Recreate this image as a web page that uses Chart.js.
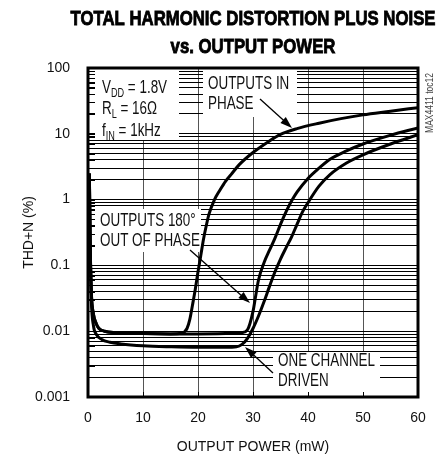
<!DOCTYPE html>
<html>
<head>
<meta charset="utf-8">
<script src="https://cdn.jsdelivr.net/npm/chart.js@4.4.0/dist/chart.umd.min.js"></script>
<style>
  html, body { margin: 0; padding: 0; background: #fff; }
  #wrap { width: 445px; height: 461px; position: relative; }
</style>
</head>
<body>
<div id="wrap"><canvas id="chart"></canvas></div>
<script>
// axis ticks
const xTicks = [0, 10, 20, 30, 40, 50, 60];
const yDecades = [0.001, 0.01, 0.1, 1, 10, 100];
const yLabels = ['0.001', '0.01', '0.1', '1', '10', '100'];

// OUTPUTS IN PHASE
const inPhaseX = [0.25, 0.4, 0.6, 1, 1.5, 2, 3, 5, 10, 15, 17, 18, 18.5, 19, 19.5, 20, 20.5, 21, 21.5, 22, 23, 24, 25, 26, 27.5, 30, 33, 35, 38, 42, 46, 50, 55, 60];
const inPhaseY = [2.5, 0.2, 0.04, 0.018, 0.013, 0.011, 0.01, 0.0095, 0.0092, 0.0091, 0.0093, 0.011, 0.015, 0.025, 0.043, 0.08, 0.14, 0.25, 0.4, 0.6, 1.0, 1.4, 1.9, 2.4, 3.4, 5.2, 7.8, 9.8, 12, 14.5, 17, 19.4, 22, 25];

// OUTPUTS 180° OUT OF PHASE
const outPhaseX = [0.25, 0.4, 0.6, 1, 1.5, 2, 3, 5, 10, 15, 20, 25, 28, 29, 30, 30.5, 31, 32, 33, 34, 35, 36, 37, 38, 40, 42, 44, 47, 50, 55, 60];
const outPhaseY = [2.5, 0.2, 0.04, 0.018, 0.013, 0.011, 0.01, 0.0095, 0.0092, 0.0091, 0.0091, 0.0092, 0.0095, 0.0105, 0.02, 0.035, 0.06, 0.11, 0.17, 0.26, 0.42, 0.65, 0.95, 1.3, 2.1, 3.0, 4.1, 5.5, 7.0, 9.5, 12.3];

// ONE CHANNEL DRIVEN
const oneChX = [0.25, 0.4, 0.6, 1, 1.5, 2.5, 4, 6, 10, 15, 20, 25, 27, 28, 29, 30, 31, 32, 33, 34, 35, 36, 37, 38, 39, 40, 42, 44, 47, 50, 55, 60];
const oneChY = [2.5, 0.2, 0.03, 0.012, 0.009, 0.0075, 0.0068, 0.0064, 0.006, 0.0058, 0.0057, 0.0057, 0.0058, 0.0063, 0.0078, 0.011, 0.017, 0.028, 0.048, 0.08, 0.125, 0.185, 0.27, 0.42, 0.65, 0.9, 1.6, 2.4, 3.6, 4.8, 7.0, 9.7];

function hasFont(name) {
  const c = document.createElement('canvas').getContext('2d');
  const s = 'OUTPUT POWER 0123';
  c.font = '40px monospace';
  const a = c.measureText(s).width;
  c.font = `40px "${name}", monospace`;
  return c.measureText(s).width !== a;
}
const narrow = hasFont('Liberation Sans Narrow');
const AXIS_FONT = narrow ? '"Liberation Sans Narrow", sans-serif' : '"Liberation Sans", Arial, sans-serif';
const AXIS_SIZE = narrow ? 16 : 14;
const TEXT_FONT = '"Liberation Sans", Arial, sans-serif';

const pts = (xs, ys) => xs.map((x, i) => ({ x, y: ys[i] }));

// minor log ticks 1..9 per decade
const yTickVals = [];
for (let e = -3; e <= 2; e++) {
  for (let k = 1; k <= 9; k++) {
    const v = Number((k * Math.pow(10, e)).toPrecision(3));
    if (v <= 100) yTickVals.push(v);
  }
}

// draws a line of text runs (with subscripts), squeezed horizontally by sx
function drawRuns(ctx, runs, x, yc, size, sx, bold) {
  ctx.save();
  ctx.translate(x, yc + size * 0.36);
  ctx.scale(sx, 1);
  ctx.textBaseline = 'alphabetic';
  ctx.textAlign = 'left';
  let cx = 0;
  runs.forEach(r => {
    const s = r.sub ? size * 0.68 : size;
    ctx.font = `${bold ? 'bold ' : ''}${s}px ${TEXT_FONT}`;
    ctx.fillText(r.t, cx, r.sub ? size * 0.18 : 0);
    if (bold) ctx.strokeText(r.t, cx, 0);
    cx += ctx.measureText(r.t).width;
  });
  ctx.restore();
}

function arrow(ctx, x0, y0, x1, y1) {
  const ang = Math.atan2(y1 - y0, x1 - x0);
  const L = 12, W = 4;
  ctx.beginPath();
  ctx.moveTo(x0, y0);
  ctx.lineTo(x1 - Math.cos(ang) * L * 0.8, y1 - Math.sin(ang) * L * 0.8);
  ctx.stroke();
  ctx.beginPath();
  ctx.moveTo(x1, y1);
  ctx.lineTo(x1 - Math.cos(ang) * L - Math.sin(ang) * W, y1 - Math.sin(ang) * L + Math.cos(ang) * W);
  ctx.lineTo(x1 - Math.cos(ang) * L + Math.sin(ang) * W, y1 - Math.sin(ang) * L - Math.cos(ang) * W);
  ctx.closePath();
  ctx.fill();
}

// white label boxes, relative to chart area [x, y, w, h]
const boxes = [[7, 0, 84, 72], [115, 0, 94, 49], [7, 141, 106, 43], [185, 284, 107, 46]];

const notes = {
  id: 'notes',
  beforeDatasetsDraw(chart) {
    const { ctx, chartArea: a } = chart;
    ctx.save();
    ctx.fillStyle = '#fff';
    boxes.forEach(b => ctx.fillRect(a.left + b[0], a.top + b[1], b[2], b[3]));
    // inner tick marks
    ctx.strokeStyle = '#000';
    ctx.lineWidth = 1;
    const ys = chart.scales.y, xs = chart.scales.x;
    ys.ticks.forEach(t => {
      const py = Math.round(ys.getPixelForValue(t.value)) + 0.5;
      ctx.beginPath(); ctx.moveTo(a.left, py); ctx.lineTo(a.left + 7, py); ctx.stroke();
    });
    xs.ticks.forEach(t => {
      const px = Math.round(xs.getPixelForValue(t.value)) + 0.5;
      ctx.beginPath(); ctx.moveTo(px, a.bottom); ctx.lineTo(px, a.bottom - 5); ctx.stroke();
    });
    ctx.restore();
  },
  afterDatasetsDraw(chart) {
    const { ctx, chartArea: a } = chart;
    const L = a.left, T = a.top;
    ctx.save();
    // frame
    ctx.strokeStyle = '#000';
    ctx.lineWidth = 3;
    ctx.strokeRect(a.left, a.top, a.right - a.left, a.bottom - a.top);

    // label text, common squeeze from "ONE CHANNEL" width
    const size = 18;
    ctx.font = `${size}px ${TEXT_FONT}`;
    const sx = 97 / ctx.measureText('ONE CHANNEL').width;
    ctx.fillStyle = '#111';
    drawRuns(ctx, [{ t: 'V' }, { t: 'DD', sub: true }, { t: ' = 1.8V' }], L + 14, T + 19, size, sx);
    drawRuns(ctx, [{ t: 'R' }, { t: 'L', sub: true }, { t: ' = 16Ω' }], L + 14, T + 40, size, sx);
    drawRuns(ctx, [{ t: 'f' }, { t: 'IN', sub: true }, { t: ' = 1kHz' }], L + 14, T + 62, size, sx);
    drawRuns(ctx, [{ t: 'OUTPUTS IN' }], L + 120, T + 15, size, sx);
    drawRuns(ctx, [{ t: 'PHASE' }], L + 120, T + 35, size, sx);
    drawRuns(ctx, [{ t: 'OUTPUTS 180°' }], L + 12, T + 152, size, sx);
    drawRuns(ctx, [{ t: 'OUT OF PHASE' }], L + 12, T + 172, size, sx);
    drawRuns(ctx, [{ t: 'ONE CHANNEL' }], L + 190, T + 292, size, sx);
    drawRuns(ctx, [{ t: 'DRIVEN' }], L + 190, T + 312, size, sx);

    // arrows
    ctx.strokeStyle = '#000';
    ctx.fillStyle = '#000';
    ctx.lineWidth = 1.3;
    arrow(ctx, L + 172, T + 31, L + 204, T + 60);
    arrow(ctx, L + 102, T + 182, L + 162, T + 235);
    arrow(ctx, L + 185, T + 305, L + 157, T + 279);

    // title
    const cx = (a.left + a.right) / 2;
    ctx.fillStyle = '#000';
    ctx.strokeStyle = '#000';
    ctx.lineWidth = 0.9;
    ctx.font = `bold 21px ${TEXT_FONT}`;
    const t1 = 'TOTAL HARMONIC DISTORTION PLUS NOISE';
    const tsx = 365 / ctx.measureText(t1).width;
    [[t1, 17], ['vs. OUTPUT POWER', 45]].forEach(([t, y]) => {
      ctx.font = `bold 21px ${TEXT_FONT}`;
      const w = ctx.measureText(t).width * tsx;
      drawRuns(ctx, [{ t }], cx - w / 2, y, 21, tsx, true);
    });

    // side code
    ctx.save();
    ctx.translate(a.right + 12, T + 35);
    ctx.rotate(-Math.PI / 2);
    ctx.fillStyle = '#444';
    ctx.font = `10px ${TEXT_FONT}`;
    ctx.textAlign = 'center';
    ctx.textBaseline = 'middle';
    ctx.scale(0.85, 1);
    ctx.fillText('MAX4411 toc12', 0, 0);
    ctx.restore();
    ctx.restore();
  }
};

const lineStyle = {
  borderColor: '#000',
  borderWidth: 3,
  pointRadius: 0,
  fill: false,
  cubicInterpolationMode: 'monotone'
};

new Chart(document.getElementById('chart'), {
  type: 'line',
  data: {
    datasets: [
      { label: 'Outputs in phase', data: pts(inPhaseX, inPhaseY), ...lineStyle },
      { label: 'Outputs 180° out of phase', data: pts(outPhaseX, outPhaseY), ...lineStyle },
      { label: 'One channel driven', data: pts(oneChX, oneChY), ...lineStyle }
    ]
  },
  options: {
    responsive: true,
    maintainAspectRatio: false,
    animation: false,
    events: [],
    layout: { padding: { top: 68, right: 27, left: 0, bottom: 0 } },
    plugins: { legend: { display: false }, tooltip: { enabled: false } },
    scales: {
      x: {
        type: 'linear',
        min: 0,
        max: 60,
        afterBuildTicks: s => { s.ticks = xTicks.map(v => ({ value: v })); },
        afterFit: s => { s.height = 64; },
        grid: { color: '#555', lineWidth: 1, drawTicks: false },
        border: { display: false },
        ticks: { color: '#111', padding: 13, font: { family: AXIS_FONT, size: AXIS_SIZE } },
        title: {
          display: true,
          text: 'OUTPUT POWER (mW)',
          color: '#111',
          font: { family: AXIS_FONT, size: AXIS_SIZE },
          padding: { top: 0, bottom: 5 }
        }
      },
      y: {
        type: 'logarithmic',
        min: 0.001,
        max: 100,
        afterBuildTicks: s => { s.ticks = yTickVals.map(v => ({ value: v })); },
        afterFit: s => { s.width = 88; },
        grid: { color: '#000', lineWidth: 1, drawTicks: false },
        border: { display: false },
        ticks: {
          autoSkip: false,
          color: '#111',
          padding: 18,
          font: { family: AXIS_FONT, size: AXIS_SIZE },
          callback: v => {
            const i = yDecades.findIndex(d => Math.abs(d - v) / d < 1e-6);
            return i >= 0 ? yLabels[i] : '';
          }
        },
        title: {
          display: true,
          text: 'THD+N (%)',
          color: '#111',
          font: { family: AXIS_FONT, size: AXIS_SIZE },
          padding: { top: 21, bottom: 0 }
        }
      }
    }
  },
  plugins: [notes]
});
</script>
</body>
</html>
